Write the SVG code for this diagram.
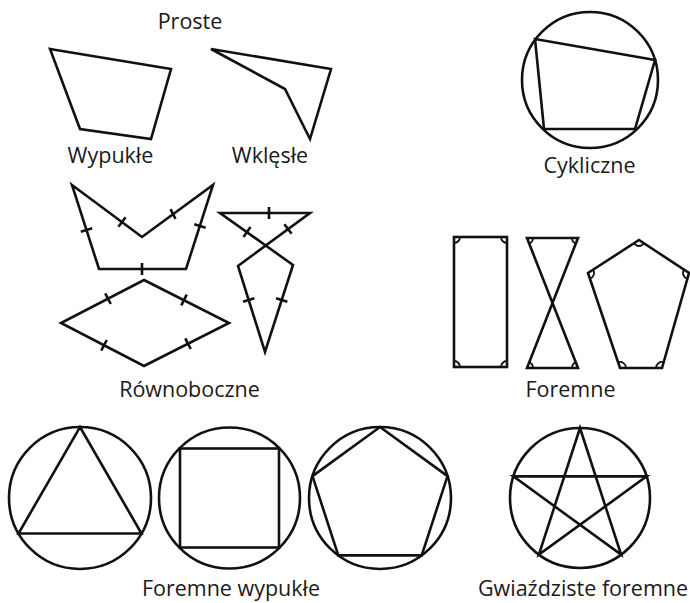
<svg xmlns="http://www.w3.org/2000/svg" width="690" height="603" viewBox="0 0 690 603">
<style>
.s{fill:none;stroke:#111;stroke-width:2.6;stroke-linejoin:miter}
.t{fill:none;stroke:#111;stroke-width:2.6}
.a{fill:none;stroke:#111;stroke-width:1.8}
.l{font-family:"Open Sans","Liberation Sans",sans-serif;font-size:21.5px;fill:#1a1a1a;text-anchor:middle}
</style>
<rect width="690" height="603" fill="#fff"/>
<text class="l" x="190" y="29">Proste</text>
<g id="wypukle">
<polygon class="s" points="50,49 171,69 151,139 80,129"/>
<text class="l" x="110.5" y="163">Wypukłe</text>
</g>
<g id="wklesle">
<polygon class="s" points="211,49 331,69 310,139 285,89"/>
<text class="l" x="270" y="163">Wklęsłe</text>
</g>
<g id="cykliczne">
<circle class="s" cx="590" cy="80" r="68"/>
<polygon class="s" points="535,39 655,60 635,129 544,129"/>
<text class="l" x="589.5" y="173">Cykliczne</text>
</g>
<g id="rownoboczne">
<polygon class="s" points="72,185 142,237 213,185 186,269 99,269"/>
<path class="t" d="M125.6,217.2L118.4,226.8M175.5,218.8L170.5,209.2M205.7,227.8L194.3,224.2M142,263L142,275M92.2,228.2L80.8,231.8"/>
<polygon class="s" points="220,213 310,213 238,266 265,352 293,265"/>
<path class="t" d="M269,207L269,219M291.6,233.8L284.4,224.2M243.5,236.9L250.5,227.1M254.4,298.2L243,301.8M287.4,301.8L276,298.2"/>
<polygon class="s" points="144,280 229,323 144,366 61,323"/>
<path class="t" d="M110.8,304L105.2,293.4M181.3,305.4L186.7,294.6M190.7,349L185.3,338.4M101.2,350.6L106.8,340"/>
<text class="l" x="189.5" y="397">Równoboczne</text>
</g>
<g id="foremne">
<rect class="s" x="454" y="237" width="53" height="130"/>
<path class="a" d="M460,237A6,6 0 0 1 454,243M507,243A6,6 0 0 1 501,237M501,367A6,6 0 0 1 507,361M454,361A6,6 0 0 1 460,367"/>
<path class="s" d="M527,238L578,238L527,368L578,368Z"/>
<path class="a" d="M533,238A6,6 0 0 1 529.2,243.6M575.8,243.6A6,6 0 0 1 572,238M529.2,362.4A6,6 0 0 1 533,368M572,368A6,6 0 0 1 575.8,362.4"/>
<polygon class="s" points="639,240 689,273 662,368 620,368 588,273"/>
<path class="a" d="M644,243.3A6,6 0 0 1 634,243.3M687.4,278.8A6,6 0 0 1 684,269.7M656,368A6,6 0 0 1 663.6,362.2M618.1,362.3A6,6 0 0 1 626,368M593,269.7A6,6 0 0 1 589.9,278.7"/>
<text class="l" x="570.5" y="397">Foremne</text>
</g>
<g id="foremne-wypukle">
<circle class="s" cx="80" cy="498" r="71"/>
<polygon class="s" points="80,427 141.5,533.5 18.5,533.5"/>
<circle class="s" cx="229.5" cy="498" r="70.5"/>
<rect class="s" x="180" y="448.5" width="99" height="99"/>
<circle class="s" cx="380" cy="498" r="71"/>
<polygon class="s" points="380,427 447.5,476.1 421.7,555.4 338.3,555.4 312.5,476.1"/>
<text class="l" x="231" y="596">Foremne wypukłe</text>
</g>
<g id="gwiazdziste">
<circle class="s" cx="580" cy="498" r="70"/>
<polygon class="s" points="580,428 621.1,554.6 513.4,476.4 646.6,476.4 538.9,554.6"/>
<text class="l" x="583" y="596">Gwiaździste foremne</text>
</g>
</svg>
